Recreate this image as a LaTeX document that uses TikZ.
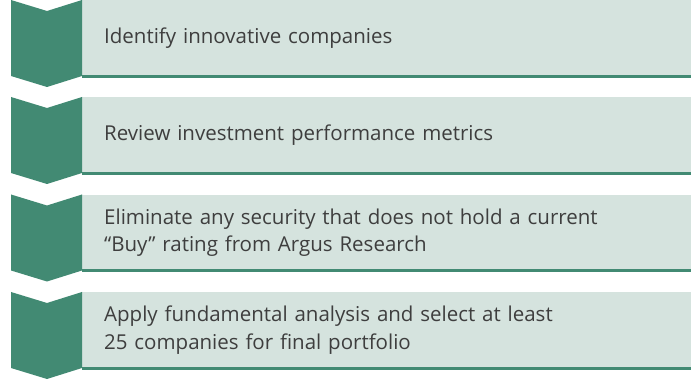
\documentclass[tikz,border=0pt]{standalone}
\usepackage{fontspec}
\setmainfont{Open Sans}
\definecolor{argusgreen}{HTML}{428A73}
\definecolor{argusmint}{HTML}{D5E3DE}
\definecolor{argustext}{HTML}{3E3E3E}
\tikzset{
  stepbox/.style={rectangle, fill=argusmint, anchor=north west, minimum width=609pt,
    minimum height=76pt, text width=565pt, inner xsep=22pt, align=left,
    text=argustext, font=\fontsize{20.5}{27.5}\selectfont},
  baseline/.style={line width=3pt, argusgreen},
  chevron/.style={fill=argusgreen}
}
\begin{document}
\begin{tikzpicture}[x=1pt,y=-1pt]
\useasboundingbox (0,0) rectangle (697,379);

\node[stepbox] (s1) at (82,0) {Identify innovative companies};
\draw[baseline] (s1.south west) -- (s1.south east);
\fill[chevron] (11,0) -- (47,11) -- (82,0) -- (82,76) -- (47,87) -- (11,76) -- cycle;

\node[stepbox] (s2) at (82,97) {Review investment performance metrics};
\draw[baseline] (s2.south west) -- (s2.south east);
\fill[chevron] (11,97) -- (47,108) -- (82,97) -- (82,173) -- (47,184) -- (11,173) -- cycle;

\node[stepbox] (s3) at (82,194.5) {Eliminate any security that does not hold a current\\``Buy'' rating from Argus Research};
\draw[baseline] (s3.south west) -- (s3.south east);
\fill[chevron] (11,194.5) -- (47,205.5) -- (82,194.5) -- (82,270.5) -- (47,281.5) -- (11,270.5) -- cycle;

\node[stepbox] (s4) at (82,292) {Apply fundamental analysis and select at least\\25 companies for final portfolio};
\draw[baseline] (s4.south west) -- (s4.south east);
\fill[chevron] (11,292) -- (47,303) -- (82,292) -- (82,368) -- (47,379) -- (11,368) -- cycle;

\end{tikzpicture}
\end{document}
